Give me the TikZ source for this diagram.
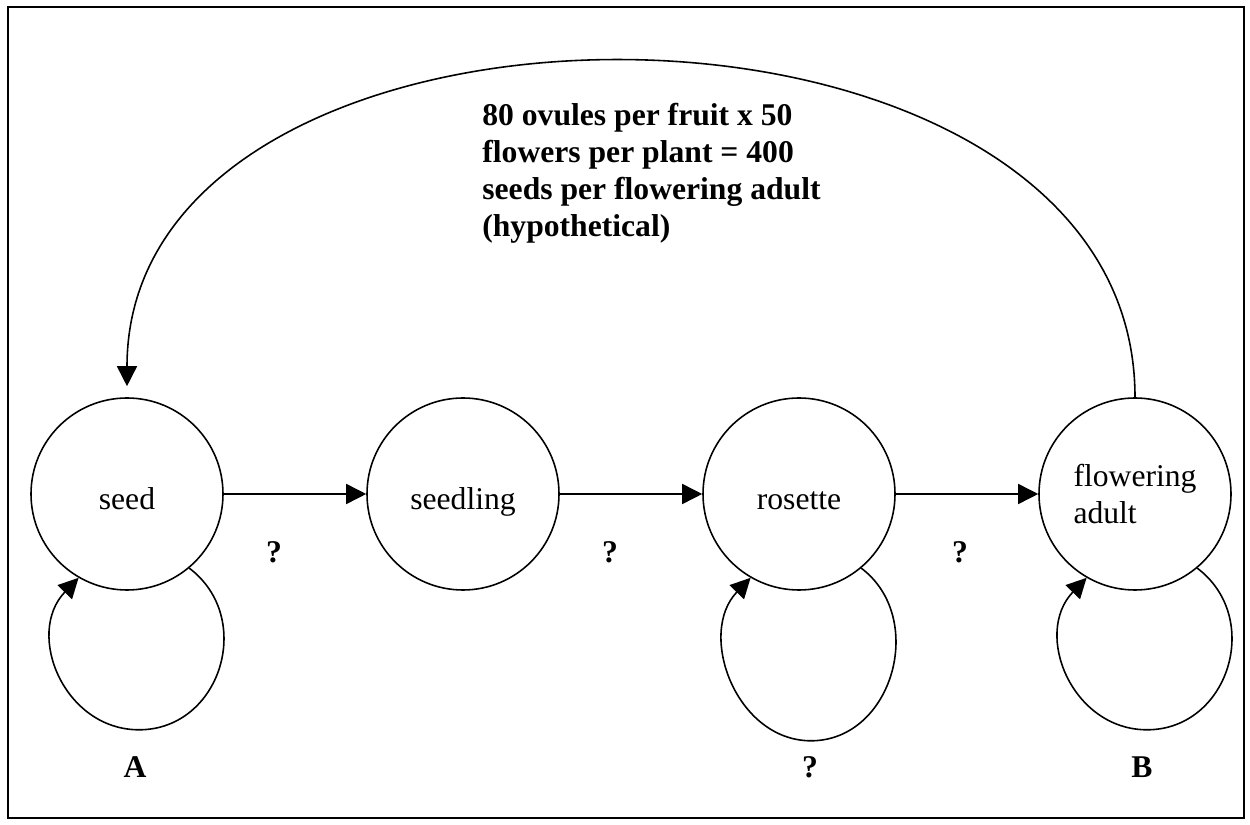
\documentclass[tikz,border=0pt]{standalone}
\usepackage{fontspec}
\setmainfont{Liberation Serif}
\usetikzlibrary{arrows.meta}
\tikzset{
  stage/.style={draw, circle, line width=0.9pt, minimum size=3.84cm,
      inner sep=0pt, font=\fontsize{18}{21}\selectfont},
  oneline/.style={text height=0.63cm, text depth=0pt},
  flow/.style={line width=0.9pt, -{Triangle[length=0.4cm,width=0.4cm]}},
  tag/.style={font=\fontsize{18}{21}\selectfont\bfseries},
  note/.style={anchor=north west, align=left, inner sep=0pt,
      font=\fontsize{18}{21}\selectfont\bfseries}
}
% #1 node, #2 depth of the loop below the node
\def\SelfLoop#1#2{%
  \draw[flow] (#1.-50) .. controls +(-37:1.66) and +(0:1.63)
     .. ([xshift=0.24cm,yshift=-#2]#1.south)
     .. controls +(180:1.5) and +(-134:1.55) .. (#1.-120);
}

\begin{document}
\begin{tikzpicture}
\useasboundingbox (0,0) rectangle (25,16.48);
\draw[line width=1.3pt] (0.16,0.12) rectangle (24.88,16.34);

\node[stage, oneline] (seed) at (2.54,6.6) {seed};
\node[stage, oneline] (seedling) at (9.26,6.6) {seedling};
\node[stage, oneline] (rosette) at (15.98,6.6) {rosette};
\node[stage, align=left] (adult) at (22.7,6.6) {flowering\\adult};

\draw[flow] (seed) -- (seedling);
\draw[flow] (seedling) -- (rosette);
\draw[flow] (rosette) -- (adult);

% seeds back to the start
\draw[flow, shorten >=0.22cm] (adult.north) .. controls +(0,8.9) and +(0,8.9) .. (seed.north);
\node[note] (fecundity) at (9.64,14.42) {80 ovules per fruit x 50\\flowers per plant = 400\\seeds per flowering adult\\(hypothetical)};

\SelfLoop{seed}{2.78cm}
\SelfLoop{rosette}{3.0cm}
\SelfLoop{adult}{2.78cm}

\node[tag] (q1) at (5.48,5.44) {?};
\node[tag] (q2) at (12.2,5.44) {?};
\node[tag] (q3) at (19.2,5.44) {?};
\node[tag] (a) at (2.7,1.14) {A};
\node[tag] (q4) at (16.2,1.14) {?};
\node[tag] (b) at (22.84,1.14) {B};
\end{tikzpicture}
\end{document}
